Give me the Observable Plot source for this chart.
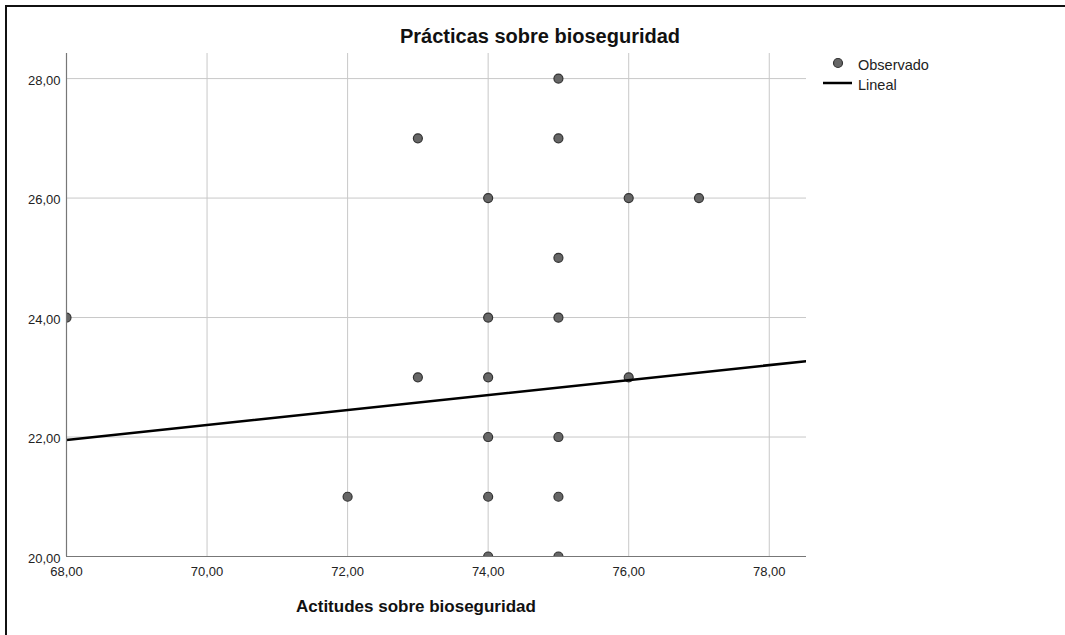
<!DOCTYPE html>
<html>
<head>
<meta charset="utf-8">
<script src="https://cdn.jsdelivr.net/npm/d3@7"></script>
<script src="https://cdn.jsdelivr.net/npm/@observablehq/plot@0.6"></script>
<style>
  html, body { margin: 0; padding: 0; background: #fff; overflow: hidden; }
  body { width: 1065px; height: 635px; position: relative; font-family: "Liberation Sans", Arial, sans-serif; }
  .bar { position: absolute; background: #111; }
  #chart { position: absolute; left: 0; top: 0; }
  .title { position: absolute; font-weight: bold; color: #111; white-space: nowrap; }
  .leg { position: absolute; font-size: 14.5px; color: #222; white-space: nowrap; line-height: 17px; }
</style>
</head>
<body>
<div class="bar" style="left:5px;top:5px;width:2px;height:630px;"></div>
<div class="bar" style="left:5px;top:5px;width:1060px;height:2px;"></div>
<div id="chart"></div>
<div class="title" id="t1" style="left:340px;width:400px;text-align:center;top:25px;font-size:20px;">Prácticas sobre bioseguridad</div>
<div class="title" id="t2" style="left:296px;top:597px;font-size:17px;">Actitudes sobre bioseguridad</div>
<svg class="leg" style="left:815px;top:50px;" width="45" height="45">
  <circle cx="23" cy="13" r="4.5" fill="#666" stroke="#333" stroke-width="1.2"></circle>
  <line x1="8" x2="37" y1="33" y2="33" stroke="#000" stroke-width="2.5"></line>
</svg>
<div class="leg" style="left:858px;top:57px;">Observado</div>
<div class="leg" style="left:858px;top:77px;">Lineal</div>
<script>
// Observed points (Actitudes, Prácticas)
const actitudes = [68, 72, 73, 73, 74, 74, 74, 74, 74, 74, 75, 75, 75, 75, 75, 75, 75, 76, 76, 77];
const practicas = [24, 21, 27, 23, 26, 24, 23, 22, 21, 20, 28, 27, 25, 24, 22, 21, 20, 26, 23, 26];
// Linear fit line endpoints
const lineX = [68, 78.53];
const lineY = [21.95, 23.27];
const xTicks = [68, 70, 72, 74, 76, 78];
const yTicks = [20, 22, 24, 26, 28];

const points = actitudes.map((x, i) => ({x, y: practicas[i]}));
const fit = lineX.map((x, i) => ({x, y: lineY[i]}));
const fmt = d => d.toFixed(2).replace(".", ",");

const chart = Plot.plot({
  width: 1065,
  height: 635,
  marginLeft: 66,
  marginRight: 259,
  marginTop: 53,
  marginBottom: 79,
  style: {fontFamily: "'Liberation Sans', Arial, sans-serif", fontSize: "13px", color: "#222", background: "transparent"},
  x: {domain: [68, 78.53], ticks: xTicks, tickFormat: fmt},
  y: {domain: [20, 28.42], ticks: yTicks, tickFormat: fmt},
  marks: [
    Plot.gridX(xTicks, {stroke: "#c8c8c8", strokeOpacity: 1, strokeWidth: 1}),
    Plot.gridY(yTicks, {stroke: "#c8c8c8", strokeOpacity: 1, strokeWidth: 1}),
    Plot.axisX(xTicks, {tickSize: 0, tickPadding: 10, tickFormat: fmt, label: null, fill: "#222", fontSize: 13}),
    Plot.axisY(yTicks, {tickSize: 0, tickPadding: 6, dy: 2, tickFormat: fmt, label: null, fill: "#222", fontSize: 13}),
    Plot.dot(points, {x: "x", y: "y", r: 4.5, fill: "#666", stroke: "#333", strokeWidth: 1.2, clip: true}),
    Plot.line(fit, {x: "x", y: "y", stroke: "#000", strokeWidth: 2.6, clip: true}),
    Plot.ruleX([68], {stroke: "#777", strokeWidth: 1.2}),
    Plot.ruleY([20], {stroke: "#777", strokeWidth: 1.2})
  ]
});
document.getElementById("chart").appendChild(chart);
</script>
</body>
</html>
